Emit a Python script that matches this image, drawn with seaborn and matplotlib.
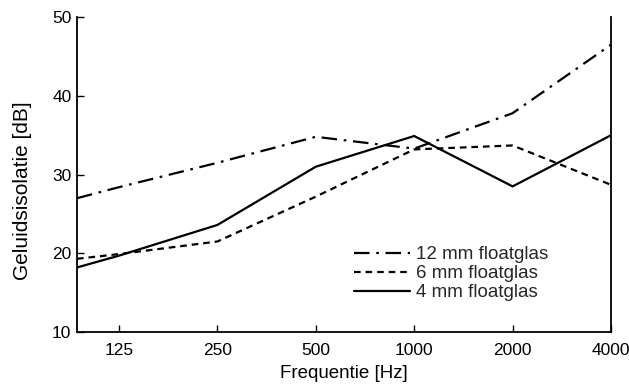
import matplotlib
matplotlib.use("Agg")
import matplotlib.pyplot as plt
from matplotlib.ticker import FixedLocator, NullLocator, FixedFormatter
import seaborn as sns
import pandas as pd

# Frequencies (Hz); the first point lies at the left edge of the axis
freq = [93, 125, 250, 500, 1000, 2000, 4000]
glas_12mm = [27.0, 28.4, 31.5, 34.8, 33.3, 37.8, 46.5]
glas_6mm = [19.3, 19.9, 21.5, 27.2, 33.2, 33.7, 28.7]
glas_4mm = [18.2, 19.7, 23.6, 31.0, 34.9, 28.5, 35.0]
series_names = ["12 mm floatglas", "6 mm floatglas", "4 mm floatglas"]
x_ticks = [125, 250, 500, 1000, 2000, 4000]
y_ticks = [10, 20, 30, 40, 50]

rows = []
for name, vals in zip(series_names, [glas_12mm, glas_6mm, glas_4mm]):
    for f, v in zip(freq, vals):
        rows.append({"freq": f, "dB": v, "glas": name})
df = pd.DataFrame(rows)

sns.set_theme(style="ticks")
plt.rcParams["font.family"] = ["Liberation Sans", "DejaVu Sans"]

fig, ax = plt.subplots(figsize=(6.29, 3.90), dpi=100)
fig.subplots_adjust(left=0.1224, right=0.9714, bottom=0.1487, top=0.956)

dash_styles = {
    "12 mm floatglas": (7, 3, 1.2, 3),
    "6 mm floatglas": (3, 2.2),
    "4 mm floatglas": "",
}
sns.lineplot(data=df, x="freq", y="dB", style="glas", style_order=series_names,
             dashes=dash_styles, color="black", linewidth=1.6, ax=ax)

ax.set_xscale("log", base=2)
ax.set_xlim(93, 4000)
ax.set_ylim(10, 50)
ax.xaxis.set_major_locator(FixedLocator(x_ticks))
ax.xaxis.set_major_formatter(FixedFormatter([str(t) for t in x_ticks]))
ax.xaxis.set_minor_locator(NullLocator())
ax.set_yticks(y_ticks)

ax.tick_params(axis="both", direction="in", length=5, width=1, color="black",
               labelsize=12.5, labelcolor="black")
ax.tick_params(axis="x", pad=8)
ax.tick_params(axis="y", pad=4)

for side in ["left", "bottom", "right"]:
    ax.spines[side].set_visible(True)
    ax.spines[side].set_color("black")
    ax.spines[side].set_linewidth(1.3)
ax.spines["top"].set_visible(False)

ax.set_xlabel("Frequentie [Hz]", fontsize=13.5, color="black", labelpad=5)
ax.set_ylabel("Geluidsisolatie [dB]", fontsize=15, color="black")
ax.yaxis.set_label_coords(-0.084, 0.45)

leg = ax.legend(title=None, frameon=False, fontsize=13.5, handlelength=3.0,
                handletextpad=0.3, labelspacing=0.1, loc="upper left",
                bbox_to_anchor=(0.505, 0.297), borderaxespad=0)
for line in leg.get_lines():
    line.set_linewidth(1.6)

fig.savefig("out.png", dpi=100, facecolor="white")
